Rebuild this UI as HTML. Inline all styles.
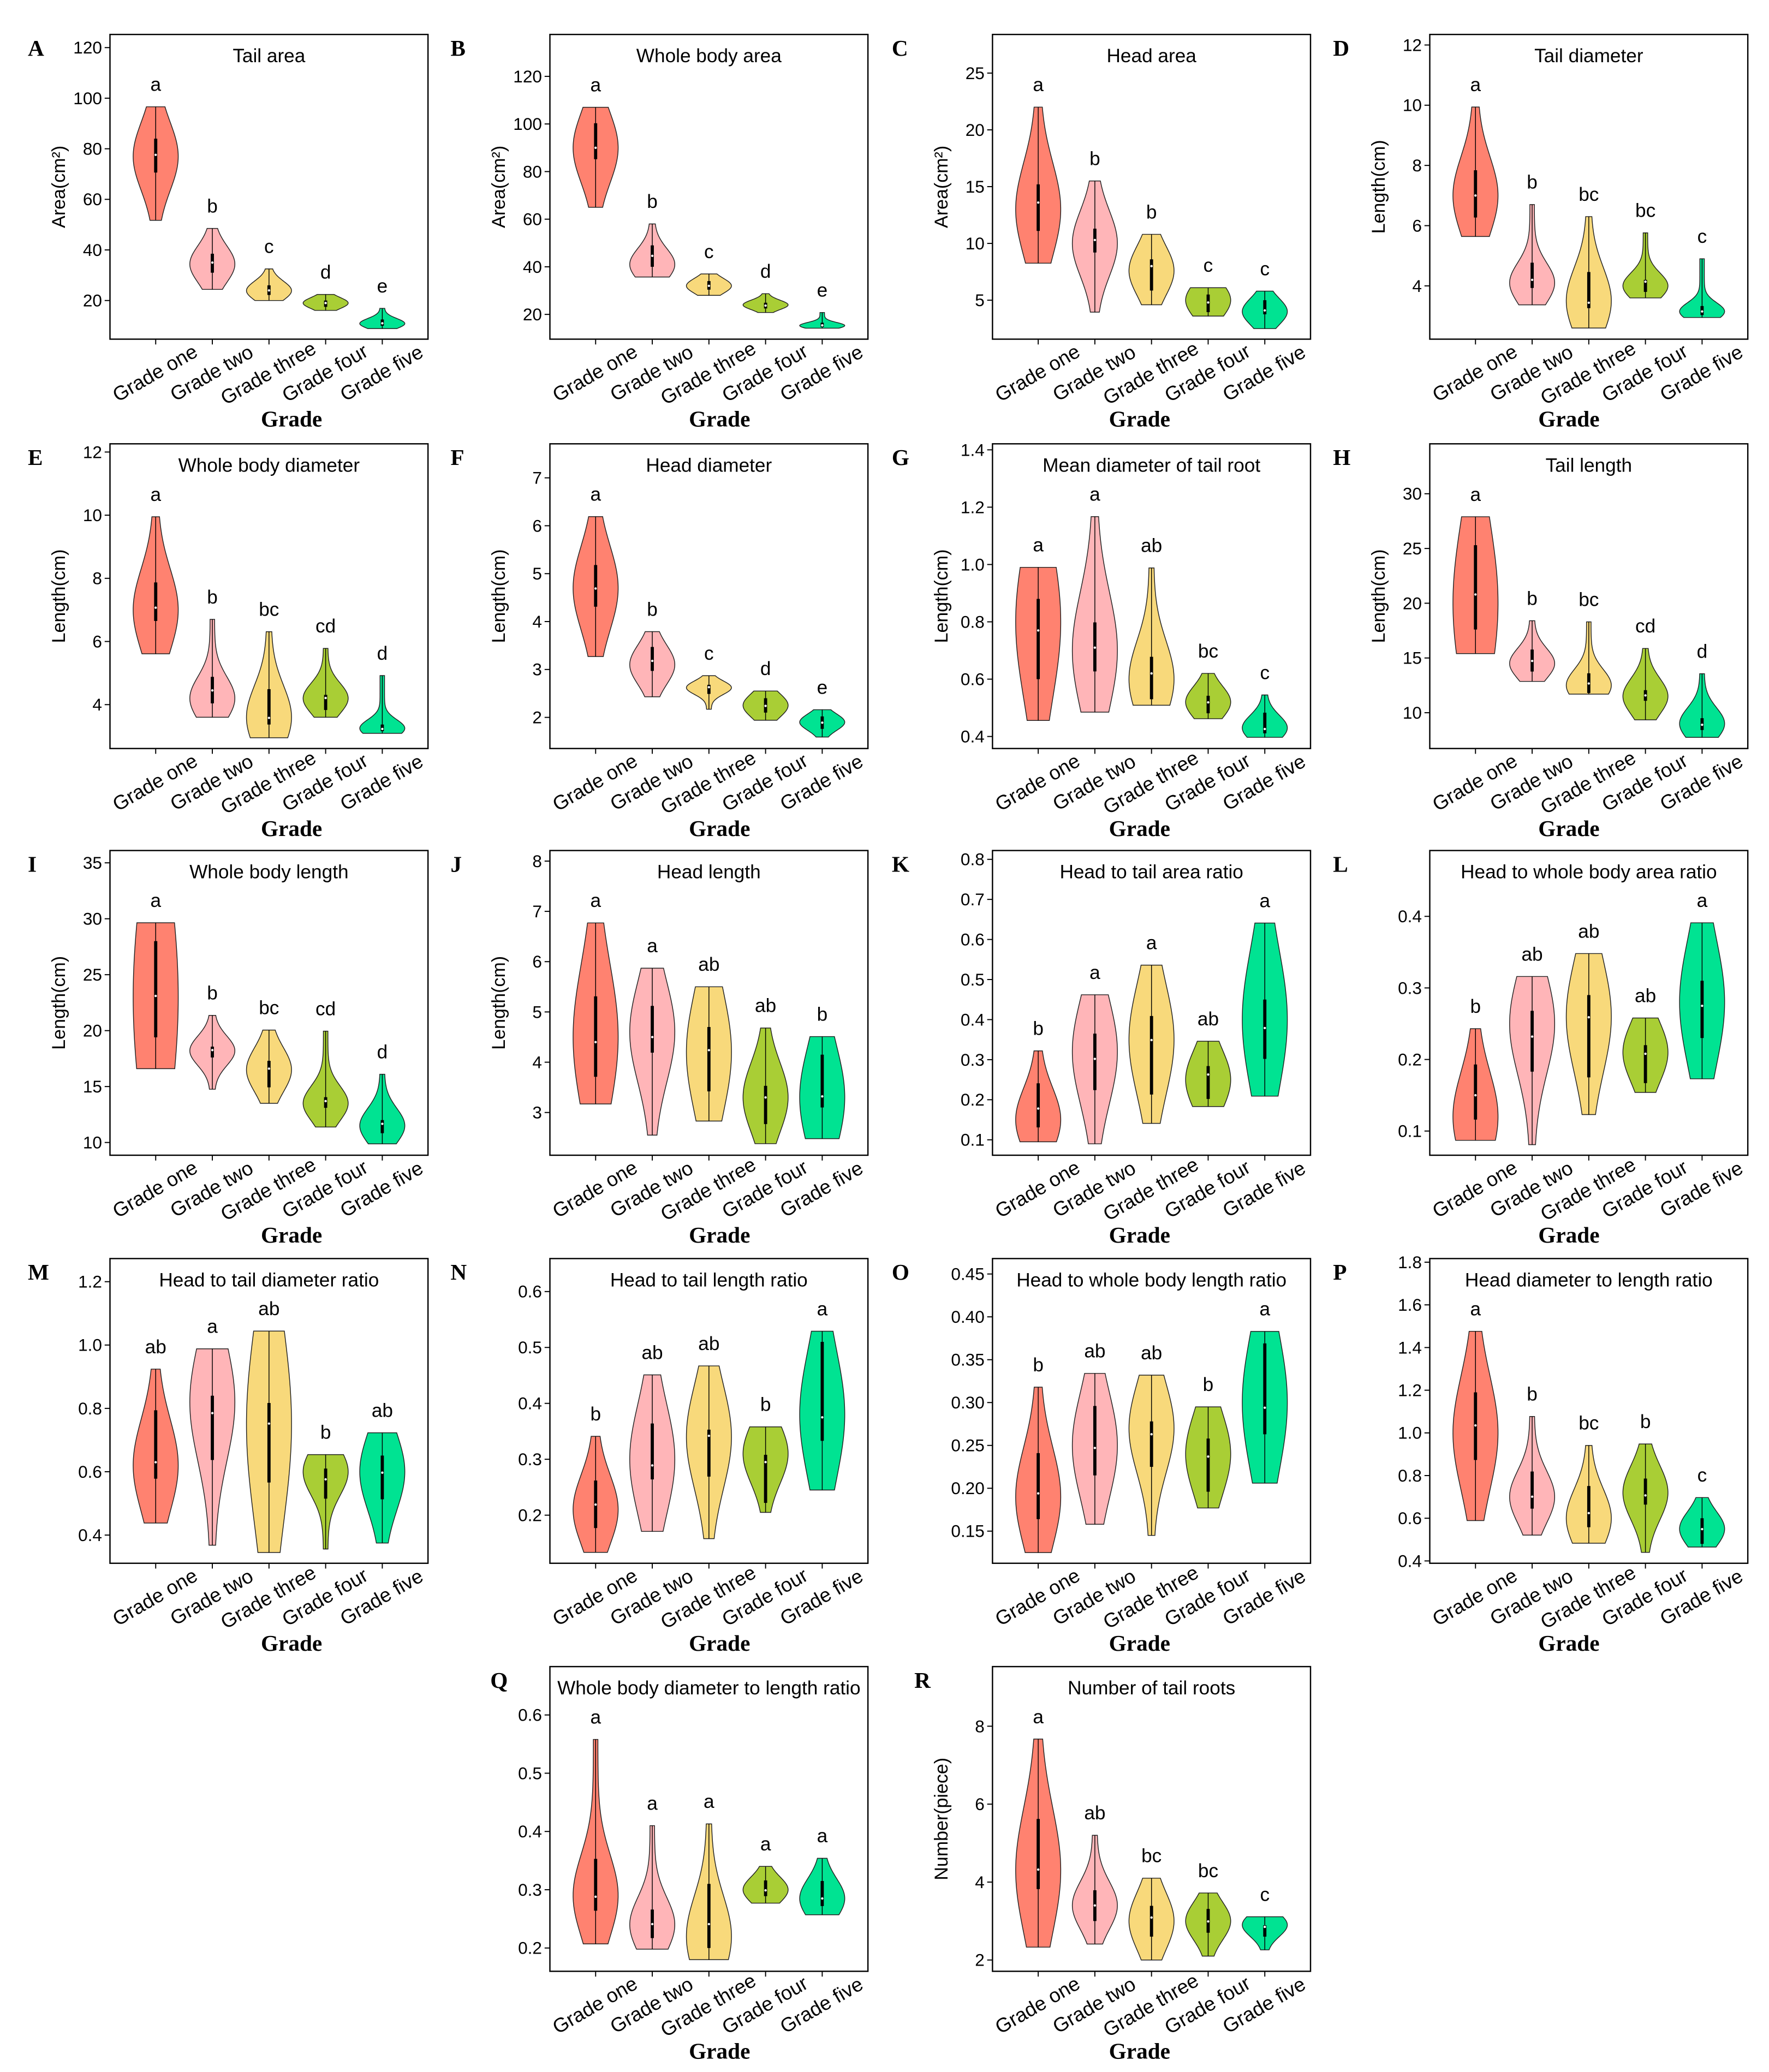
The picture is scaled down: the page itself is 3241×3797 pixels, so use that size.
<!DOCTYPE html>
<html><head><meta charset="utf-8"><title>Violin plots by grade</title>
<style>
html,body{margin:0;padding:0;background:#fff;}
svg{display:block;}
.tick{font-family:"Liberation Sans",sans-serif;font-size:13px;fill:#000;}
.xl{font-family:"Liberation Sans",sans-serif;font-size:15px;fill:#000;}
.ttl{font-family:"Liberation Sans",sans-serif;font-size:14.5px;fill:#000;}
.yl{font-family:"Liberation Sans",sans-serif;font-size:14px;fill:#000;}
.gr{font-family:"Liberation Serif",serif;font-size:17px;font-weight:bold;fill:#000;}
.pl{font-family:"Liberation Serif",serif;font-size:17px;font-weight:bold;fill:#000;}
</style></head>
<body>
<svg id="fig" xmlns="http://www.w3.org/2000/svg" width="3241" height="3797" viewBox="0 0 1335 1564"></svg>
<script>
const categories = ['Grade one','Grade two','Grade three','Grade four','Grade five'];
const colors = ['#FF8270','#FFB5B8','#F8D97B','#A9CE35','#00E392'];
// stats per violin: [min, max, q1, median, q3, densityPeak, spread]
const A_ticks=[20,40,60,80,100,120];
const A_stats=[[51.7,96.6,70.6,77.6,84,77,0.3],[24.4,48.5,31,35,38.5,34.4,0.3],[20,32.5,22.2,24,26,23.9,0.3],[16.1,22.4,17.5,19,20,19,0.35],[8.9,16.9,10,11,12.5,10.9,0.25]];
const A_letters=['a','b','c','d','e'];
const B_ticks=[20,40,60,80,100,120];
const B_stats=[[65,107,85.2,90,100.3,90,0.35],[35.7,58,40,44.6,49,41,0.3],[28,37,30.4,32,34,32,0.35],[20.8,28.7,22.5,23.7,24.9,24,0.25],[14.2,20.8,14.7,15.4,16.5,15.3,0.2]];
const B_letters=['a','b','c','d','e'];
const C_ticks=[5,10,15,20,25];
const C_stats=[[8.26,22,11.1,13.6,15.2,13,0.3],[3.95,15.5,9.2,10.3,11.3,10,0.25],[4.6,10.8,5.85,8,8.6,7.6,0.35],[3.6,6.1,3.95,4.8,5.5,5,0.6],[2.5,5.8,3.76,4.1,5,4,0.35]];
const C_letters=['a','b','b','c','c'];
const D_ticks=[4,6,8,10,12];
const D_stats=[[5.64,9.94,6.27,7,7.84,7,0.3],[3.37,6.7,3.93,4.2,4.77,4.1,0.2],[2.6,6.3,3.26,3.44,4.46,3.5,0.3],[3.6,5.76,3.8,4.14,4.2,4,0.2],[2.95,4.9,3.03,3.15,3.33,3.15,0.15]];
const D_letters=['a','b','bc','bc','c'];
const E_ticks=[4,6,8,10,12];
const E_stats=[[5.61,9.95,6.65,7.07,7.87,7,0.3],[3.6,6.7,4.04,4.45,4.88,4.2,0.22],[2.95,6.31,3.37,3.58,4.49,3.6,0.3],[3.6,5.78,3.83,4.21,4.31,4.2,0.22],[3.09,4.92,3.16,3.23,3.37,3.25,0.15]];
const E_letters=['a','b','bc','cd','d'];
const F_ticks=[2,3,4,5,6,7];
const F_stats=[[3.27,6.19,4.31,4.69,5.18,4.7,0.3],[2.43,3.79,2.97,3.18,3.47,3.1,0.3],[2.17,2.87,2.49,2.63,2.68,2.62,0.2],[1.94,2.55,2.1,2.24,2.4,2.25,0.4],[1.59,2.16,1.76,1.89,2.02,1.9,0.3]];
const F_letters=['a','b','c','d','e'];
const G_ticks=[0.4,0.6,0.8,1.0,1.2,1.4];
const G_stats=[[0.456,0.99,0.6,0.77,0.88,0.8,0.5],[0.485,1.167,0.627,0.71,0.798,0.7,0.3],[0.509,0.988,0.53,0.62,0.678,0.6,0.28],[0.462,0.62,0.481,0.519,0.542,0.52,0.35],[0.397,0.545,0.411,0.426,0.483,0.43,0.3]];
const G_letters=['a','a','ab','bc','c'];
const H_ticks=[10,15,20,25,30];
const H_stats=[[15.4,27.9,17.6,20.8,25.3,20,0.6],[12.86,18.4,13.76,14.73,15.77,14.5,0.25],[11.7,18.3,11.8,12.67,13.6,12.5,0.22],[9.35,15.87,11.09,11.58,12.06,11.5,0.25],[7.75,13.56,8.42,8.9,9.5,9,0.25]];
const H_letters=['a','b','bc','cd','d'];
const I_ticks=[10,15,20,25,30,35];
const I_stats=[[16.6,29.64,19.4,23.1,28,23,0.8],[14.76,21.36,17.6,18.26,18.57,18.2,0.2],[13.5,20.05,14.93,16.6,17.3,16.5,0.3],[11.38,19.95,13.1,13.7,14.05,13.5,0.18],[9.88,16.1,10.83,11.67,12,11.5,0.25]];
const I_letters=['a','b','bc','cd','d'];
const J_ticks=[3,4,5,6,7,8];
const J_stats=[[3.17,6.77,3.71,4.4,5.31,4.5,0.4],[2.55,5.87,4.19,4.5,5.12,4.6,0.3],[2.83,5.5,3.42,4.24,4.7,4.2,0.45],[2.38,4.68,2.77,3.3,3.53,3.3,0.3],[2.48,4.51,3.1,3.32,4.15,3.3,0.5]];
const J_letters=['a','a','ab','ab','b'];
const K_ticks=[0.1,0.2,0.3,0.4,0.5,0.6,0.7,0.8];
const K_stats=[[0.095,0.322,0.131,0.178,0.241,0.15,0.35],[0.09,0.462,0.224,0.302,0.365,0.32,0.35],[0.141,0.536,0.213,0.349,0.409,0.35,0.35],[0.183,0.346,0.202,0.263,0.284,0.25,0.45],[0.209,0.641,0.302,0.379,0.45,0.4,0.4]];
const K_letters=['b','a','a','ab','a'];
const L_ticks=[0.1,0.2,0.3,0.4];
const L_stats=[[0.087,0.243,0.116,0.15,0.193,0.12,0.4],[0.081,0.316,0.183,0.232,0.268,0.25,0.3],[0.123,0.348,0.175,0.259,0.29,0.26,0.35],[0.154,0.258,0.167,0.208,0.22,0.21,0.4],[0.173,0.391,0.23,0.275,0.31,0.28,0.4]];
const L_letters=['b','ab','ab','ab','a'];
const M_ticks=[0.4,0.6,0.8,1.0,1.2];
const M_stats=[[0.438,0.924,0.578,0.63,0.794,0.62,0.3],[0.368,0.988,0.637,0.785,0.84,0.82,0.3],[0.345,1.044,0.566,0.752,0.817,0.75,0.45],[0.356,0.654,0.515,0.576,0.61,0.6,0.25],[0.375,0.723,0.513,0.597,0.651,0.6,0.35]];
const M_letters=['ab','a','ab','b','ab'];
const N_ticks=[0.2,0.3,0.4,0.5,0.6];
const N_stats=[[0.1335,0.341,0.177,0.219,0.262,0.21,0.3],[0.171,0.451,0.264,0.289,0.364,0.3,0.35],[0.158,0.467,0.269,0.342,0.353,0.34,0.3],[0.205,0.358,0.222,0.295,0.308,0.31,0.35],[0.245,0.529,0.333,0.375,0.51,0.38,0.4]];
const N_letters=['b','ab','ab','b','a'];
const O_ticks=[0.15,0.20,0.25,0.30,0.35,0.40,0.45];
const O_stats=[[0.125,0.318,0.164,0.194,0.241,0.19,0.3],[0.158,0.334,0.215,0.247,0.296,0.25,0.35],[0.145,0.332,0.225,0.263,0.278,0.27,0.28],[0.177,0.295,0.196,0.237,0.258,0.24,0.4],[0.206,0.383,0.263,0.294,0.369,0.3,0.45]];
const O_letters=['b','ab','ab','b','a'];
const P_ticks=[0.4,0.6,0.8,1.0,1.2,1.4,1.6,1.8];
const P_stats=[[0.589,1.476,0.873,1.035,1.19,1.0,0.3],[0.521,1.077,0.645,0.701,0.819,0.7,0.22],[0.483,0.941,0.558,0.624,0.751,0.6,0.3],[0.44,0.948,0.664,0.707,0.786,0.72,0.25],[0.465,0.697,0.48,0.549,0.6,0.55,0.35]];
const P_letters=['a','b','bc','b','c'];
const Q_ticks=[0.2,0.3,0.4,0.5,0.6];
const Q_stats=[[0.207,0.558,0.264,0.288,0.353,0.29,0.2],[0.198,0.41,0.217,0.241,0.266,0.24,0.22],[0.18,0.413,0.2,0.241,0.31,0.22,0.3],[0.277,0.34,0.289,0.299,0.316,0.3,0.35],[0.257,0.354,0.272,0.285,0.315,0.285,0.35]];
const Q_letters=['a','a','a','a','a'];
const R_ticks=[2,4,6,8];
const R_stats=[[2.33,7.67,3.82,4.32,5.62,4.3,0.3],[2.41,5.2,3,3.4,3.79,3.4,0.22],[2,4.1,2.6,3.09,3.39,3,0.35],[2.1,3.72,2.7,2.99,3.31,3,0.3],[2.26,3.11,2.6,2.85,2.89,2.9,0.35]];
const R_letters=['a','ab','bc','bc','c'];

const colLeft=[83,415,749,1079];
const gradeOffset=[17,8,-9,-15];
const rowTop=[26,335,642,950,1258];
const BW=240, BH=230;
const panels=[
 ['A',0,0,'Tail area','Area(cm²)',4.72,125.2,A_ticks,0,A_stats,A_letters,21],
 ['B',0,1,'Whole body area','Area(cm²)',9.6,137.6,B_ticks,0,B_stats,B_letters,340],
 ['C',0,2,'Head area','Area(cm²)',1.57,28.4,C_ticks,0,C_stats,C_letters,673],
 ['D',0,3,'Tail diameter','Length(cm)',2.23,12.35,D_ticks,0,D_stats,D_letters,1006],
 ['E',1,0,'Whole body diameter','Length(cm)',2.61,12.26,E_ticks,0,E_stats,E_letters,21],
 ['F',1,1,'Head diameter','Length(cm)',1.35,7.71,F_ticks,0,F_stats,F_letters,340],
 ['G',1,2,'Mean diameter of tail root','Length(cm)',0.358,1.421,G_ticks,1,G_stats,G_letters,673],
 ['H',1,3,'Tail length','Length(cm)',6.73,34.56,H_ticks,0,H_stats,H_letters,1006],
 ['I',2,0,'Whole body length','Length(cm)',8.86,36.1,I_ticks,0,I_stats,I_letters,21],
 ['J',2,1,'Head length','Length(cm)',2.15,8.21,J_ticks,0,J_stats,J_letters,340],
 ['K',2,2,'Head to tail area ratio','',0.0615,0.822,K_ticks,1,K_stats,K_letters,673],
 ['L',2,3,'Head to whole body area ratio','',0.0662,0.492,L_ticks,1,L_stats,L_letters,1006],
 ['M',3,0,'Head to tail diameter ratio','',0.311,1.273,M_ticks,1,M_stats,M_letters,21],
 ['N',3,1,'Head to tail length ratio','',0.114,0.659,N_ticks,1,N_stats,N_letters,340],
 ['O',3,2,'Head to whole body length ratio','',0.1125,0.468,O_ticks,2,O_stats,O_letters,673],
 ['P',3,3,'Head diameter to length ratio','',0.389,1.817,P_ticks,1,P_stats,P_letters,1006],
 ['Q',4,1,'Whole body diameter to length ratio','',0.16,0.683,Q_ticks,1,Q_stats,Q_letters,370],
 ['R',4,2,'Number of tail roots','Number(piece)',1.71,9.53,R_ticks,0,R_stats,R_letters,690]
];
const NS='http://www.w3.org/2000/svg';
const svg=document.getElementById('fig');
function mk(tag,attrs,parent){const e=document.createElementNS(NS,tag);for(const k in attrs)e.setAttribute(k,attrs[k]);parent.appendChild(e);return e;}
panels.forEach(p=>{
 const [id,r,c,title,ylab,lo,hi,ticks,dec,stats,letters,lx]=p;
 const L=colLeft[c],T=rowTop[r],B=T+BH;
 const sy=v=>T+BH*(hi-v)/(hi-lo);
 const sx=i=>L+34.5+i*42.75;
 const g=mk('g',{},svg);
 
 
 const pl=mk('text',{x:lx,y:T+16,class:'pl'},g);pl.textContent=id;
 
 
 const fr=mk('rect',{x:L,y:T,width:BW,height:BH,fill:'none',stroke:'#000','stroke-width':1},g);
 
 
 const tt=mk('text',{x:L+BW/2,y:T+21,class:'ttl','text-anchor':'middle'},g);tt.textContent=title;
 
 
 ticks.forEach(t=>{
  const y=sy(t);
  mk('line',{x1:L-4,x2:L,y1:y,y2:y,stroke:'#000','stroke-width':0.8},g);
  const tl=mk('text',{x:L-6,y:y+4.5,class:'tick','text-anchor':'end'},g);tl.textContent=t.toFixed(dec);
  
  
 });
 if(ylab){const yl=mk('text',{x:0,y:0,class:'yl','text-anchor':'middle',transform:`translate(${L-34},${T+BH/2}) rotate(-90)`},g);yl.textContent=ylab;
  
  }
 categories.forEach((cat,i)=>{
  const x=sx(i);
  mk('line',{x1:x,x2:x,y1:B,y2:B+4,stroke:'#000','stroke-width':0.8},g);
  const xl=mk('text',{x:0,y:0,class:'xl','text-anchor':'middle',transform:`translate(${x+2},${B+30}) rotate(-30)`},g);xl.textContent=cat;
  
  
  const [mn,mx,q1,md,q3,pk,sp]=stats[i];
  const sd=sp*(mx-mn);
  const hw=v=>17*(0.1+0.9*Math.exp(-0.5*Math.pow((v-pk)/sd,2)));
  const N=48;let right=[],left=[];
  for(let k=0;k<=N;k++){const v=mn+(mx-mn)*k/N;const w=hw(v),y=sy(v);right.push([x+w,y]);left.push([x-w,y]);}
  let d='M'+right.map(q=>q[0].toFixed(2)+','+q[1].toFixed(2)).join(' L');
  d+=' L'+left.reverse().map(q=>q[0].toFixed(2)+','+q[1].toFixed(2)).join(' L')+' Z';
  const vp=mk('path',{d:d,fill:colors[i],stroke:'#222','stroke-width':0.6},g);
  
  
  mk('line',{x1:x,x2:x,y1:sy(mn),y2:sy(mx),stroke:'#000','stroke-width':0.6},g);
  const bx=mk('rect',{x:x-1.2,y:sy(q3),width:2.4,height:Math.max(0.5,sy(q1)-sy(q3)),fill:'#000'},g);
  
  
  mk('circle',{cx:x,cy:sy(md),r:0.9,fill:'#fff'},g);
  const lt=mk('text',{x:x,y:sy(mx)-12,class:'ttl','text-anchor':'middle'},g);lt.textContent=letters[i];
  
  
 });
 const gx=mk('text',{x:L+BW/2+gradeOffset[c],y:B+66,class:'gr','text-anchor':'middle'},g);gx.textContent='Grade';
 
 
});
</script>
</body></html>
